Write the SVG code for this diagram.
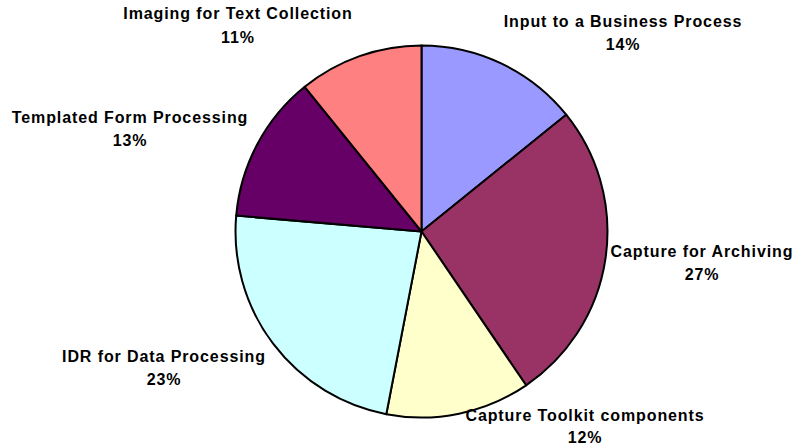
<svg xmlns="http://www.w3.org/2000/svg" width="796" height="446" viewBox="0 0 796 446">
<style>
.s{stroke:#000;stroke-width:2;stroke-linejoin:round}
text{font-family:"Liberation Sans",Arial,sans-serif;font-weight:bold;font-size:16px;letter-spacing:0.9px;fill:#000;text-anchor:middle}
</style>
<rect width="796" height="446" fill="#fff"/>
<g id="slices">
<g id="input"><path class="s" fill="#9999FF" d="M421.5,231.5 L421.5,45.5 A186,186 0 0 1 566.2,114.7 Z"/></g>
<g id="archiving"><path class="s" fill="#993366" d="M421.5,231.5 L566.2,114.7 A186,186 0 0 1 526.1,385.3 Z"/></g>
<g id="toolkit"><path class="s" fill="#FFFFCC" d="M421.5,231.5 L526.1,385.3 A186,186 0 0 1 386.3,414.2 Z"/></g>
<g id="idr"><path class="s" fill="#CCFFFF" d="M421.5,231.5 L386.3,414.2 A186,186 0 0 1 236.2,215.6 Z"/></g>
<g id="templated"><path class="s" fill="#660066" d="M421.5,231.5 L236.2,215.6 A186,186 0 0 1 304.7,86.8 Z"/></g>
<g id="imaging"><path class="s" fill="#FF8080" d="M421.5,231.5 L304.7,86.8 A186,186 0 0 1 421.5,45.5 Z"/></g>
</g>
<g id="labels">
<text x="238" y="19">Imaging for Text Collection</text><text x="238" y="43">11%</text>
<text x="130" y="123">Templated Form Processing</text><text x="130" y="146">13%</text>
<text x="623" y="27">Input to a Business Process</text><text x="623" y="50">14%</text>
<text x="702" y="257">Capture for Archiving</text><text x="702" y="280">27%</text>
<text x="164" y="362">IDR for Data Processing</text><text x="164" y="385">23%</text>
<text x="585" y="421">Capture Toolkit components</text><text x="585" y="443">12%</text>
</g>
</svg>
